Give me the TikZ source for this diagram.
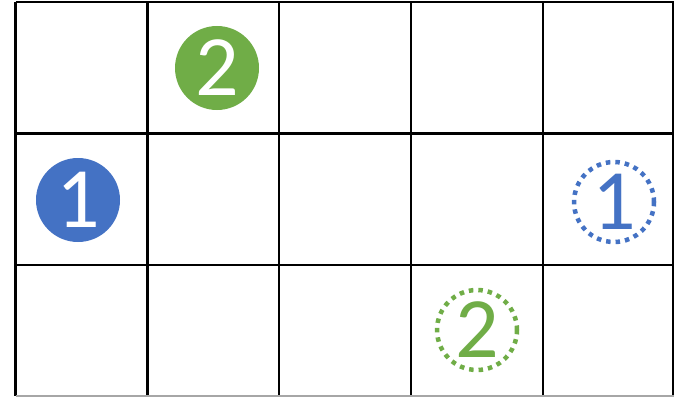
\documentclass[tikz,border=0pt]{standalone}
\usepackage{fontspec}
\setmainfont{Carlito}
\usepackage{xcolor}
\usetikzlibrary{positioning}
\definecolor{mblue}{HTML}{4472C4}
\definecolor{mgreen}{HTML}{70AD47}
\tikzset{
    token/.style={circle, minimum size=84pt, inner sep=0pt, text=white, font=\fontsize{86}{86}\selectfont},
    ghost/.style={circle, minimum size=80pt, inner sep=0pt, line width=4.5pt, dash pattern=on 4.5pt off 5pt, font=\fontsize{86}{86}\selectfont}
}
\begin{document}
\begin{tikzpicture}[x=1pt, y=-1pt]
        \useasboundingbox (0,0) rectangle (674,396);
        % grid
        \foreach \x in {15.5,147.5,279,411,543,673} {
            \draw[line width=2.6pt] (\x,2) -- (\x,396);
        }
        \foreach \y in {2,133.5,265} {
            \draw[line width=2.6pt] (15.5,\y) -- (674,\y);
        }
        \draw[line width=1.5pt, black!35] (15.5,396) -- (674,396);

        % start tokens
        \node[token, fill=mblue] (one) at (78,200) {1};
        \node[token, fill=mgreen] (two) at (217,68) {2};

        % goal tokens
        \node[ghost, draw=mblue, text=mblue] (onegoal) at (614,202) {1};
        \node[ghost, draw=mgreen, text=mgreen] (twogoal) at (477,330) {2};
    \end{tikzpicture}
\end{document}
